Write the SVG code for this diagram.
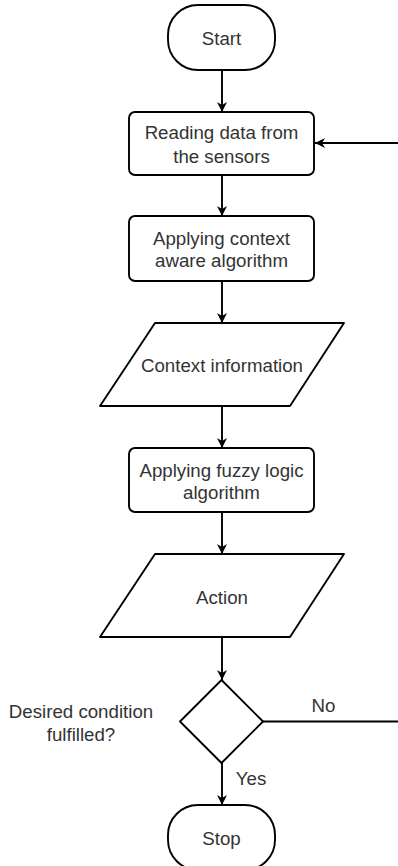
<svg xmlns="http://www.w3.org/2000/svg" width="398" height="866" viewBox="0 0 398 866">
<defs>
<marker id="arr" viewBox="0 0 10 10" refX="10" refY="5" markerWidth="10" markerHeight="10" markerUnits="userSpaceOnUse" orient="auto">
<path d="M0,0 L10,5 L0,10 L3,5 Z" fill="#000"/>
</marker>
<style>
.s{fill:#fff;stroke:#000;stroke-width:1.9;stroke-linejoin:round}
.c{fill:none;stroke:#000;stroke-width:1.9}
text{font-family:"Liberation Sans",Arial,sans-serif;font-size:18.7px;fill:#333;text-anchor:middle}
</style>
</defs>
<rect width="398" height="866" fill="#fff"/>
<g id="connectors">
<line class="c" x1="222" y1="70" x2="222" y2="112" marker-end="url(#arr)"/>
<line class="c" x1="222" y1="175" x2="222" y2="216" marker-end="url(#arr)"/>
<line class="c" x1="222" y1="281" x2="222" y2="323" marker-end="url(#arr)"/>
<line class="c" x1="222" y1="406" x2="222" y2="448" marker-end="url(#arr)"/>
<line class="c" x1="222" y1="512" x2="222" y2="554" marker-end="url(#arr)"/>
<line class="c" x1="222" y1="637" x2="222" y2="680" marker-end="url(#arr)"/>
<line class="c" x1="222" y1="763" x2="222" y2="805" marker-end="url(#arr)"/>
<line class="c" x1="263" y1="721.5" x2="400" y2="721.5"/>
<line class="c" x1="400" y1="143" x2="315" y2="143" marker-end="url(#arr)"/>
<text x="323.5" y="712">No</text>
<text x="251" y="785">Yes</text>
</g>
<g id="start">
<rect class="s" x="168" y="5" width="107" height="65" rx="30" ry="30"/>
<text x="221.5" y="44.5">Start</text>
</g>
<g id="read">
<rect class="s" x="129" y="112" width="185" height="63" rx="6"/>
<text x="221.5" y="138.5">Reading data from</text>
<text x="221.5" y="162.5">the sensors</text>
</g>
<g id="context-algo">
<rect class="s" x="129" y="216" width="185" height="65" rx="6"/>
<text x="221.5" y="244.5">Applying context</text>
<text x="221.5" y="267">aware algorithm</text>
</g>
<g id="context-info">
<path class="s" d="M155,323 L344,323 L290,406 L100,406 Z"/>
<text x="222" y="371.5">Context information</text>
</g>
<g id="fuzzy">
<rect class="s" x="129" y="448" width="185" height="64" rx="6"/>
<text x="221.5" y="476.5">Applying fuzzy logic</text>
<text x="221.5" y="498.5">algorithm</text>
</g>
<g id="action">
<path class="s" d="M155,554 L344,554 L290,637 L100,637 Z"/>
<text x="222" y="603.5">Action</text>
</g>
<g id="decision">
<path class="s" d="M221.5,680 L263,721.5 L221.5,763 L180,721.5 Z"/>
<text x="81" y="717.5">Desired condition</text>
<text x="81" y="740.5">fulfilled?</text>
</g>
<g id="stop">
<rect class="s" x="168" y="805" width="107" height="65" rx="30" ry="30"/>
<text x="221.5" y="844.5">Stop</text>
</g>
</svg>
